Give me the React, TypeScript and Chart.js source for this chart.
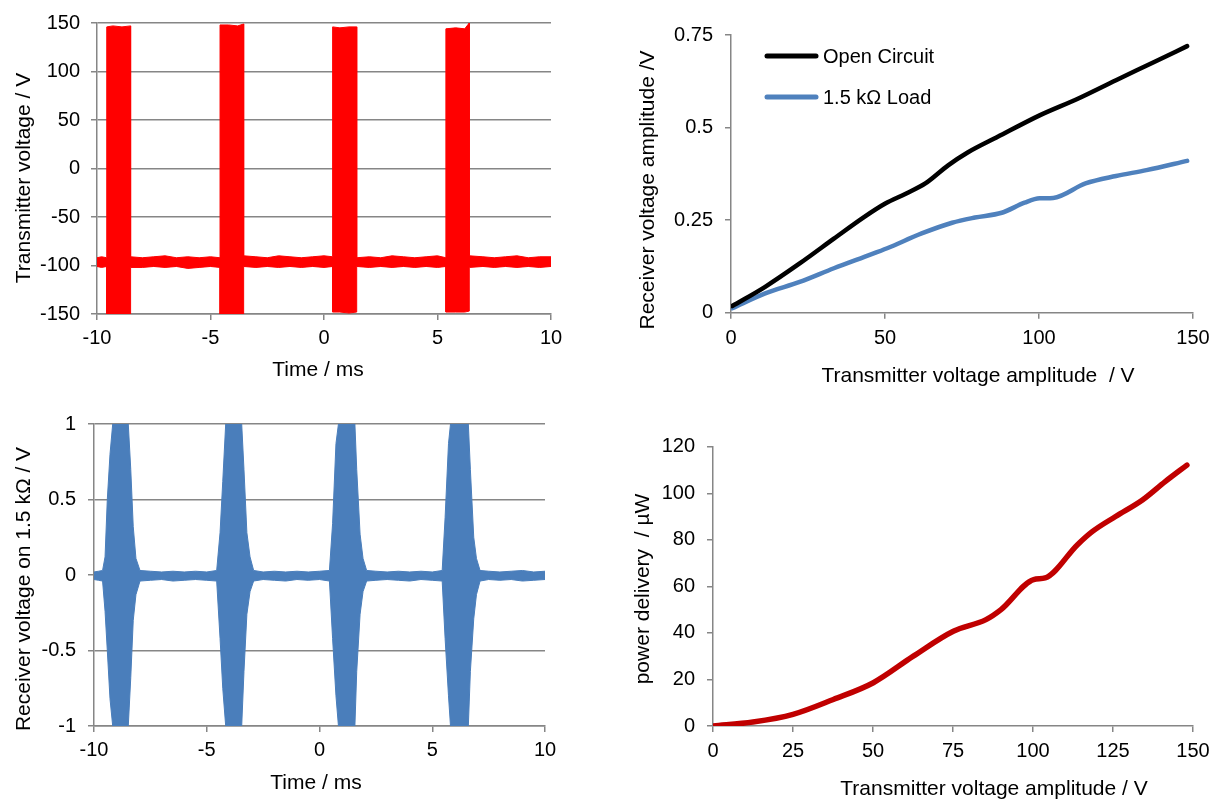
import React, { useEffect, useRef } from "react";
import { Chart, registerables } from "chart.js";

Chart.register(...registerables);

const FONT = '"Liberation Sans", Arial, sans-serif';
const GRAY = "#868686";

// ---------- Top-left: transmitter voltage (envelope of the burst signal) ----------
const txTime = [
  -10, -9.8, -9.57, -9.57, -9.3, -8.9, -8.52, -8.52,
  -8.0, -7.5, -7.0, -6.5, -6.0, -5.5, -5.0, -4.58, -4.58, -4.2, -3.8, -3.54, -3.54,
  -3.0, -2.5, -2.0, -1.5, -1.0, -0.5, 0.0, 0.38, 0.38, 0.7, 1.1, 1.44, 1.44,
  2.0, 2.5, 3.0, 3.5, 4.0, 4.5, 5.0, 5.37, 5.37, 5.8, 6.2, 6.4, 6.4,
  7.0, 7.5, 8.0, 8.5, 9.0, 9.5, 10,
];
const txUpper = [
  -92, -91, -92, 146, 147, 146, 147, -91,
  -92, -91, -90, -92, -91, -92, -91, -92, 148, 148, 147, 149, -90,
  -91, -92, -90, -91, -92, -91, -90, -91, 146, 145, 146, 146, -92,
  -91, -92, -90, -91, -92, -91, -90, -92, 144, 145, 144, 150, -90,
  -91, -92, -91, -90, -92, -91, -91,
];
const txLower = [
  -101, -102, -101, -150, -150, -150, -150, -102,
  -102, -101, -102, -101, -103, -102, -101, -102, -150, -150, -150, -150, -101,
  -102, -101, -102, -101, -102, -101, -102, -101, -148, -148, -149, -148, -101,
  -102, -101, -102, -101, -102, -101, -102, -101, -148, -148, -148, -147, -102,
  -101, -102, -101, -102, -101, -102, -101,
];
const timeTicks = [-10, -5, 0, 5, 10];
const txTicks = [-150, -100, -50, 0, 50, 100, 150];

// ---------- Bottom-left: receiver voltage on 1.5 kΩ (envelope) ----------
const rxTime = [
  -10, -9.8, -9.62, -9.51, -9.41, -9.29, -9.17, -8.48, -8.37, -8.26, -8.14, -7.96,
  -7.5, -7.0, -6.5, -6.0, -5.5, -5.0, -4.56, -4.41, -4.29, -4.16, -3.45, -3.35, -3.22, -3.08, -2.92,
  -2.5, -2.0, -1.5, -1.0, -0.5, 0.0, 0.44, 0.58, 0.73, 0.84, 1.57, 1.65, 1.8, 1.93, 2.09,
  2.5, 3.0, 3.5, 4.0, 4.5, 5.0, 5.44, 5.57, 5.72, 5.81, 6.6, 6.69, 6.84, 6.96, 7.12,
  7.5, 8.0, 8.5, 9.0, 9.5, 10,
];
const rxUpper = [
  0.02, 0.025, 0.03, 0.12, 0.5, 0.8, 1.0, 1.0, 0.7, 0.32, 0.11, 0.03,
  0.025, 0.02, 0.025, 0.02, 0.025, 0.02, 0.03, 0.28, 0.62, 1.0, 1.0, 0.7, 0.28, 0.12, 0.03,
  0.02, 0.025, 0.02, 0.025, 0.02, 0.025, 0.03, 0.34, 0.87, 1.0, 1.0, 0.7, 0.27, 0.11, 0.03,
  0.025, 0.02, 0.025, 0.02, 0.025, 0.02, 0.03, 0.38, 0.87, 1.0, 1.0, 0.7, 0.25, 0.11, 0.03,
  0.025, 0.02, 0.025, 0.03, 0.02, 0.025,
];
const rxLower = [
  -0.03, -0.035, -0.04, -0.24, -0.5, -0.82, -1.0, -1.0, -0.68, -0.3, -0.13, -0.04,
  -0.035, -0.03, -0.04, -0.035, -0.03, -0.035, -0.04, -0.42, -0.75, -1.0, -1.0, -0.64, -0.26, -0.11, -0.04,
  -0.03, -0.035, -0.04, -0.03, -0.035, -0.03, -0.04, -0.42, -0.8, -1.0, -1.0, -0.64, -0.26, -0.11, -0.04,
  -0.035, -0.03, -0.035, -0.04, -0.03, -0.035, -0.04, -0.42, -0.8, -1.0, -1.0, -0.64, -0.29, -0.13, -0.04,
  -0.03, -0.035, -0.03, -0.04, -0.035, -0.03,
];
const rxTicks = [-1, -0.5, 0, 0.5, 1];

// ---------- Top-right: receiver amplitude vs transmitter amplitude ----------
const openX = [0.4, 11.1, 22.3, 33.4, 43.3, 50.1, 56.9, 63.1, 70.5, 76.7, 86.6, 100.2, 112.6, 125.0, 137.4, 148.1];
const openY = [0.018, 0.07, 0.133, 0.2, 0.259, 0.295, 0.322, 0.349, 0.398, 0.432, 0.475, 0.533, 0.578, 0.628, 0.677, 0.72];
const loadX = [0.4, 11.1, 22.3, 33.4, 43.3, 50.7, 61.9, 71.8, 79.2, 87.9, 95.3, 100.2, 104.6, 115.1, 125.0, 134.9, 148.1];
const loadY = [0.012, 0.052, 0.083, 0.12, 0.151, 0.174, 0.214, 0.243, 0.257, 0.27, 0.297, 0.309, 0.31, 0.349, 0.369, 0.385, 0.41];
const ampXTicks = [0, 50, 100, 150];
const ampYTicks = [0, 0.25, 0.5, 0.75];

// ---------- Bottom-right: power delivery ----------
const powerX = [0, 12.5, 25.0, 37.6, 50.1, 62.6, 75.1, 85.3, 90.0, 100.2, 103.8, 113.9, 118.6, 125.8, 134.2, 141.3, 148.1];
const powerY = [0, 1.7, 5.0, 11.4, 18.6, 30.0, 40.7, 45.7, 50.0, 62.9, 63.6, 77.9, 83.6, 90.0, 97.1, 105.0, 112.1];
const powXTicks = [0, 25, 50, 75, 100, 125, 150];
const powYTicks = [0, 20, 40, 60, 80, 100, 120];

const pts = (xs: number[], ys: number[]) => xs.map((x, i) => ({ x, y: ys[i] }));

type Layout = {
  width: number;
  height: number;
  yWidth: number;
  xHeight: number;
  padTop: number;
  padRight: number;
  xTitle: string;
  yTitle: string;
  xTitlePos: [number, number];
  yTitlePos: [number, number];
  xPad: number;
  yPad: number;
  grid: boolean;
};

function scalesFor(
  L: Layout,
  xr: [number, number],
  yr: [number, number],
  xt: number[],
  yt: number[]
) {
  const tickFont = { family: FONT, size: 20 };
  return {
    x: {
      type: "linear",
      min: xr[0],
      max: xr[1],
      afterBuildTicks: (s: any) => {
        s.ticks = xt.map((v) => ({ value: v }));
      },
      afterFit: (s: any) => {
        s.height = L.xHeight;
      },
      ticks: { font: tickFont, color: "#000", padding: L.xPad, maxRotation: 0, callback: (v: any) => String(v) },
      grid: { drawOnChartArea: false, drawTicks: true, tickLength: 6, color: GRAY, lineWidth: 1.5 },
      border: { display: true, color: GRAY, width: 1.5 },
    },
    y: {
      type: "linear",
      min: yr[0],
      max: yr[1],
      afterBuildTicks: (s: any) => {
        s.ticks = yt.map((v) => ({ value: v }));
      },
      afterFit: (s: any) => {
        s.width = L.yWidth;
      },
      ticks: { font: tickFont, color: "#000", padding: L.yPad, callback: (v: any) => String(v) },
      grid: { drawOnChartArea: L.grid, drawTicks: true, tickLength: 6, color: GRAY, lineWidth: 1.5 },
      border: { display: true, color: GRAY, width: 1.5 },
    },
  };
}

function titlesPlugin(L: Layout, legend?: { text: string; color: string; y: number }[]) {
  return {
    id: "customTitles",
    afterDraw(chart: any) {
      const ctx = chart.ctx as CanvasRenderingContext2D;
      ctx.save();
      ctx.font = `21px ${FONT}`;
      ctx.fillStyle = "#000";
      ctx.textAlign = "center";
      ctx.textBaseline = "middle";
      ctx.fillText(L.xTitle, L.xTitlePos[0], L.xTitlePos[1]);
      ctx.save();
      ctx.translate(L.yTitlePos[0], L.yTitlePos[1]);
      ctx.rotate(-Math.PI / 2);
      ctx.fillText(L.yTitle, 0, 0);
      ctx.restore();
      if (legend) {
        ctx.font = `20px ${FONT}`;
        legend.forEach((item) => {
          ctx.beginPath();
          ctx.strokeStyle = item.color;
          ctx.lineWidth = 5;
          ctx.lineCap = "round";
          ctx.moveTo(158, item.y);
          ctx.lineTo(207, item.y);
          ctx.stroke();
          ctx.textAlign = "left";
          ctx.fillStyle = "#000";
          ctx.fillText(item.text, 214, item.y + 1);
        });
      }
      ctx.restore();
    },
  };
}

function PanelChart({
  left,
  top,
  L,
  build,
}: {
  left: number;
  top: number;
  L: Layout;
  build: () => any;
}) {
  const ref = useRef<HTMLCanvasElement | null>(null);
  useEffect(() => {
    if (!ref.current) return;
    const chart = new Chart(ref.current, build());
    return () => chart.destroy();
  }, []);
  return (
    <canvas
      ref={ref}
      width={L.width}
      height={L.height}
      style={{ position: "absolute", left, top, width: L.width, height: L.height }}
    />
  );
}

const baseOptions = (L: Layout) => ({
  responsive: false,
  animation: false as const,
  devicePixelRatio: 1,
  layout: { padding: { top: L.padTop, right: L.padRight, left: 0, bottom: 0 } },
  plugins: { legend: { display: false }, tooltip: { enabled: false } },
  elements: { point: { radius: 0 } },
});

const L_TL: Layout = {
  width: 609, height: 400, yWidth: 97, xHeight: 86, padTop: 19.5, padRight: 58,
  xTitle: "Time / ms", yTitle: "Transmitter voltage / V",
  xTitlePos: [318, 370], yTitlePos: [24, 178], xPad: 6, yPad: 11, grid: true,
};
const L_TR: Layout = {
  width: 609, height: 400, yWidth: 122, xHeight: 87.3, padTop: 35, padRight: 25,
  xTitle: "Transmitter voltage amplitude  / V", yTitle: "Receiver voltage amplitude /V",
  xTitlePos: [369, 376], yTitlePos: [39, 190], xPad: 8, yPad: 12, grid: false,
};
const L_BL: Layout = {
  width: 609, height: 405, yWidth: 94, xHeight: 79, padTop: 17, padRight: 64,
  xTitle: "Time / ms", yTitle: "Receiver voltage on 1.5 kΩ / V",
  xTitlePos: [316, 383], yTitlePos: [24, 189], xPad: 6, yPad: 12, grid: true,
};
const L_BR: Layout = {
  width: 609, height: 405, yWidth: 104, xHeight: 79, padTop: 46.7, padRight: 25,
  xTitle: "Transmitter voltage amplitude / V", yTitle: "power delivery  / µW",
  xTitlePos: [385, 389], yTitlePos: [34, 189], xPad: 7, yPad: 12, grid: false,
};

export default function App() {
  return (
    <div style={{ position: "absolute", left: 0, top: 0, width: 1218, height: 805, background: "#fff", overflow: "hidden" }}>
      <PanelChart
        left={0}
        top={0}
        L={L_TL}
        build={() => ({
          type: "line",
          data: {
            datasets: [
              {
                label: "upper",
                data: pts(txTime, txUpper),
                borderColor: "#FF0000",
                backgroundColor: "#FF0000",
                borderWidth: 1,
                fill: "+1",
                clip: 0,
              },
              {
                label: "lower",
                data: pts(txTime, txLower),
                borderColor: "#FF0000",
                borderWidth: 1,
                fill: false,
                clip: 0,
              },
            ],
          },
          options: { ...baseOptions(L_TL), scales: scalesFor(L_TL, [-10, 10], [-150, 150], timeTicks, txTicks) },
          plugins: [titlesPlugin(L_TL)],
        })}
      />
      <PanelChart
        left={609}
        top={0}
        L={L_TR}
        build={() => ({
          type: "line",
          data: {
            datasets: [
              {
                label: "Open Circuit",
                data: pts(openX, openY),
                borderColor: "#000000",
                borderWidth: 4.5,
                borderCapStyle: "round",
                borderJoinStyle: "round",
                cubicInterpolationMode: "monotone",
                fill: false,
              },
              {
                label: "1.5 kΩ Load",
                data: pts(loadX, loadY),
                borderColor: "#4F81BD",
                borderWidth: 4.5,
                borderCapStyle: "round",
                borderJoinStyle: "round",
                cubicInterpolationMode: "monotone",
                fill: false,
              },
            ],
          },
          options: { ...baseOptions(L_TR), scales: scalesFor(L_TR, [0, 150], [0, 0.75], ampXTicks, ampYTicks) },
          plugins: [
            titlesPlugin(L_TR, [
              { text: "Open Circuit", color: "#000000", y: 56 },
              { text: "1.5 kΩ Load", color: "#4F81BD", y: 97 },
            ]),
          ],
        })}
      />
      <PanelChart
        left={0}
        top={400}
        L={L_BL}
        build={() => ({
          type: "line",
          data: {
            datasets: [
              {
                label: "upper",
                data: pts(rxTime, rxUpper),
                borderColor: "#4A7EBB",
                backgroundColor: "#4A7EBB",
                borderWidth: 1,
                fill: "+1",
                clip: 0,
              },
              {
                label: "lower",
                data: pts(rxTime, rxLower),
                borderColor: "#4A7EBB",
                borderWidth: 1,
                fill: false,
                clip: 0,
              },
            ],
          },
          options: { ...baseOptions(L_BL), scales: scalesFor(L_BL, [-10, 10], [-1, 1], timeTicks, rxTicks) },
          plugins: [titlesPlugin(L_BL)],
        })}
      />
      <PanelChart
        left={609}
        top={400}
        L={L_BR}
        build={() => ({
          type: "line",
          data: {
            datasets: [
              {
                label: "power delivery",
                data: pts(powerX, powerY),
                borderColor: "#C00000",
                borderWidth: 5.5,
                borderCapStyle: "round",
                borderJoinStyle: "round",
                cubicInterpolationMode: "monotone",
                fill: false,
              },
            ],
          },
          options: { ...baseOptions(L_BR), scales: scalesFor(L_BR, [0, 150], [0, 120], powXTicks, powYTicks) },
          plugins: [titlesPlugin(L_BR)],
        })}
      />
    </div>
  );
}
